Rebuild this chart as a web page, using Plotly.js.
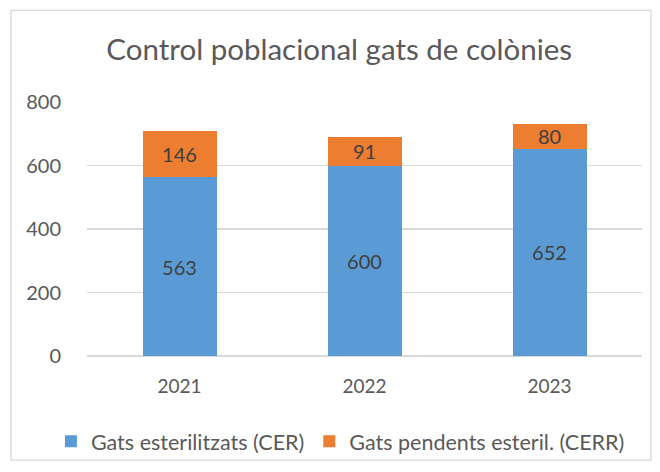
<!DOCTYPE html>
<html>
<head>
<meta charset="utf-8">
<script src="https://cdn.plot.ly/plotly-3.0.1.min.js"></script>
<style>html,body{margin:0;padding:0;background:#fff;}#chart{width:660px;height:472px;}</style>
</head>
<body>
<div id="chart"></div>
<script>
const years = ['2021', '2022', '2023'];
const sterilized = [563, 600, 652];
const pending = [146, 91, 80];
const seriesNames = ['Gats esterilitzats (CER)', 'Gats pendents esteril. (CERR)'];
const yTicks = [0, 200, 400, 600, 800];

const FONT = 'Lato, "Open Sans", sans-serif';

const common = {
  type: 'bar',
  x: years,
  textposition: 'inside',
  insidetextanchor: 'middle',
  textangle: 0,
  constraintext: 'none',
  textfont: {family: FONT, size: 20, color: '#404040'},
  hoverinfo: 'none'
};

const traces = [
  Object.assign({}, common, {
    name: seriesNames[0], y: sterilized, text: sterilized.map(String),
    marker: {color: '#5B9BD5', line: {width: 0}}
  }),
  Object.assign({}, common, {
    name: seriesNames[1], y: pending, text: pending.map(String),
    marker: {color: '#ED7D31', line: {width: 0}}
  })
];

const layout = {
  width: 660, height: 472,
  margin: {l: 87, r: 18, t: 102, b: 115},
  paper_bgcolor: '#fff', plot_bgcolor: '#fff',
  barmode: 'stack',
  bargap: 0.6,
  font: {family: FONT, color: '#595959', size: 19},
  title: {text: 'Control poblacional gats de colònies', font: {family: FONT, size: 29.5, color: '#595959'},
          x: 0.514, xanchor: 'center', y: 0.895, yanchor: 'middle'},
  xaxis: {type: 'category', showgrid: false, zeroline: false, showline: false,
          ticks: 'outside', ticklen: 13, tickcolor: 'rgba(0,0,0,0)',
          tickfont: {family: FONT, size: 19, color: '#595959'}},
  yaxis: {range: [0, 800], tickvals: yTicks, ticktext: yTicks.map(String),
          showgrid: true, gridcolor: '#d9d9d9', gridwidth: 1.3,
          zeroline: true, zerolinecolor: '#d9d9d9', zerolinewidth: 1.5,
          showline: false, ticks: 'outside', ticklen: 21, tickcolor: 'rgba(0,0,0,0)',
          tickfont: {family: FONT, size: 20, color: '#595959'}},
  showlegend: true,
  legend: {orientation: 'h', x: -0.065, xanchor: 'left', y: -0.33, yanchor: 'middle',
           font: {family: FONT, size: 21.5, color: '#595959'}, itemwidth: 30, tracegroupgap: 0,
           traceorder: 'normal', bgcolor: 'rgba(0,0,0,0)'},
  shapes: [{type: 'rect', xref: 'paper', yref: 'paper',
            x0: -0.137, x1: 1.016, y0: -0.41, y1: 1.361,
            line: {color: '#d9d9d9', width: 1.3}, fillcolor: 'rgba(0,0,0,0)', layer: 'below'}]
};

Plotly.newPlot('chart', traces, layout, {displayModeBar: false, staticPlot: true});
</script>
</body>
</html>
